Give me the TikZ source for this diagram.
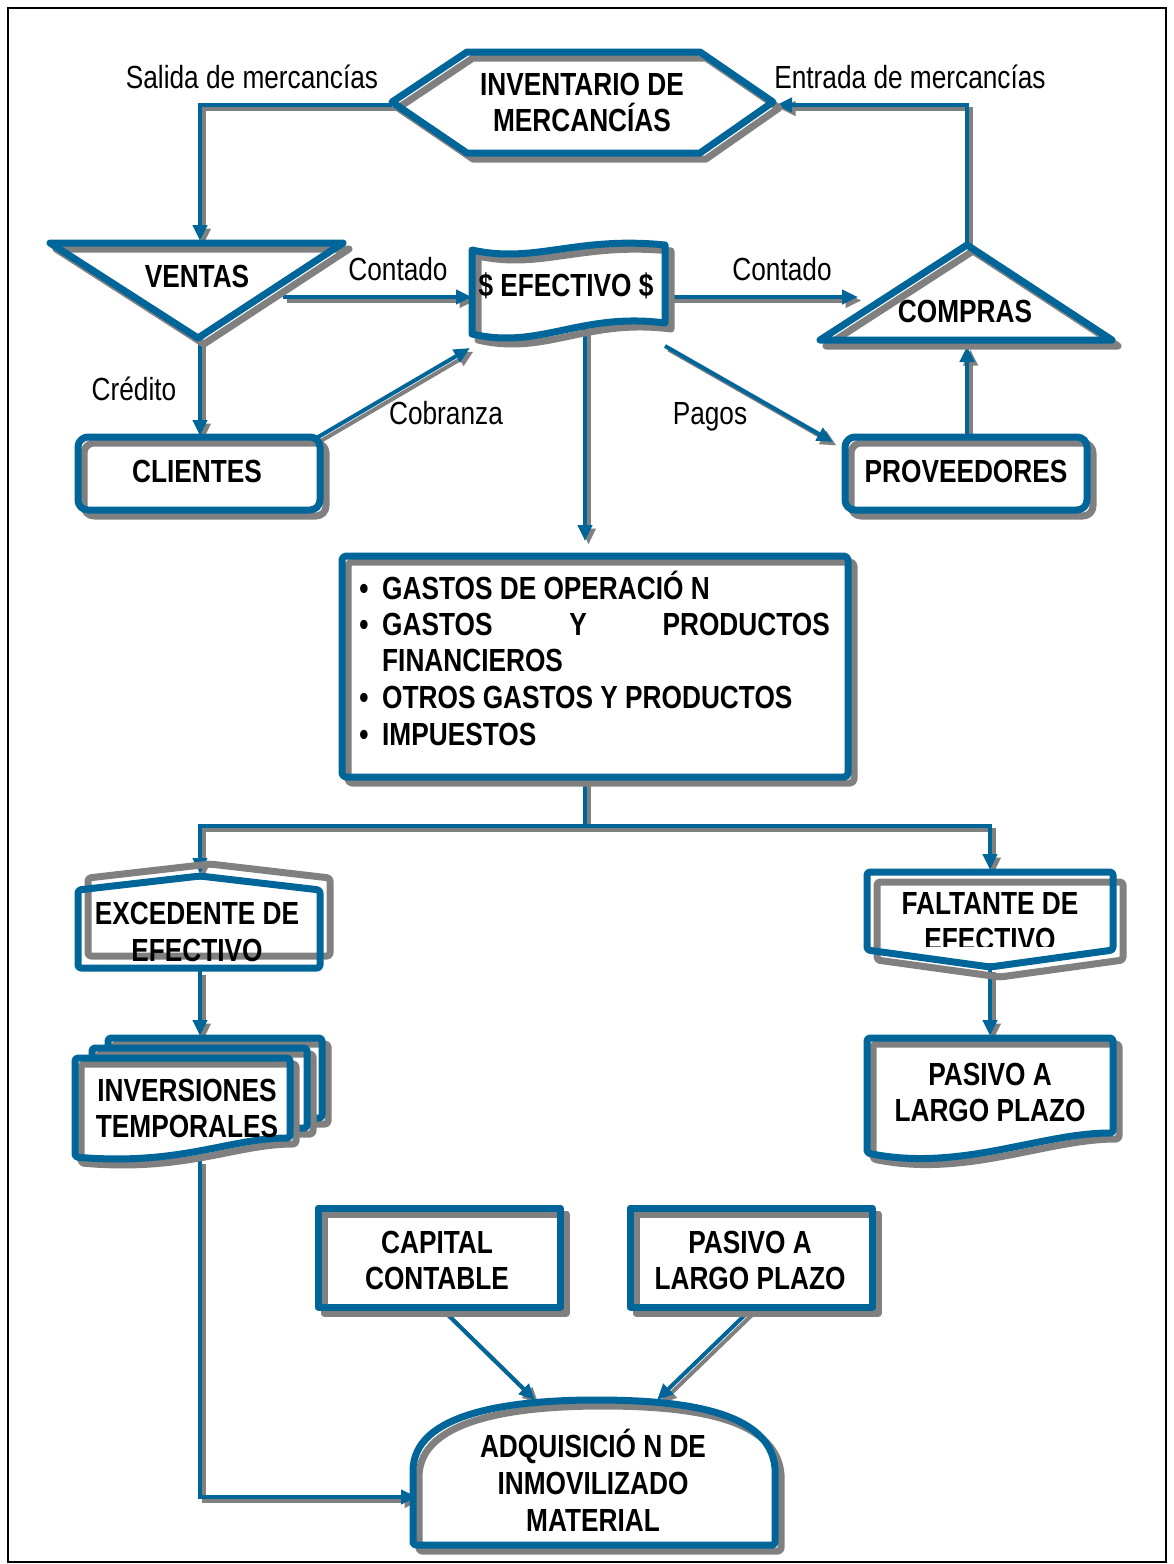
\documentclass[tikz,border=0pt]{standalone}
\usepackage{fontspec}
\setmainfont[FakeStretch=0.82]{Liberation Sans}
\usetikzlibrary{arrows.meta}
\definecolor{flowblue}{RGB}{0,102,153}
\definecolor{flowgray}{RGB}{128,128,128}

% white body, offset grey outline, blue outline
\newcommand\drawshape[2]{%
  \fill[white] #2;
  \draw[shd,shift={#1}] #2;
  \draw[shp] #2;}
% connector with its grey copy underneath
\newcommand\flow[1]{\draw[arrshd] #1; \draw[arr] #1;}

\begin{document}
\begin{tikzpicture}[x=1pt,y=-1pt,
  shp/.style={draw=flowblue,line width=7pt,line join=round},
  shd/.style={draw=flowgray,line width=7pt,line join=round},
  arr/.style={draw=flowblue,line width=4pt,-{Triangle[length=16pt,width=14pt]}},
  arrshd/.style={draw=flowgray,line width=4pt,-{Triangle[length=16pt,width=14pt]},
                 transform canvas={shift={(3.5pt,-3.5pt)}}},
  lbl/.style={inner sep=0pt,text height=23pt,text depth=0pt,font=\fontsize{32}{38}\selectfont},
  ttl/.style={lbl,font=\fontsize{32}{38}\selectfont\bfseries}]

\useasboundingbox (0,0) rectangle (1173,1564);
\fill[white] (0,0) rectangle (1173,1564);
\draw[black,line width=1.5pt] (8,8) rectangle (1166,1562);

% ---------- connector ends ----------
\coordinate (inv-w) at (392,105);
\coordinate (inv-e) at (776,105);
\coordinate (ven-n) at (200,241);
\coordinate (ven-s) at (200,340);
\coordinate (ven-e) at (283,297);
\coordinate (efe-w) at (472,297);
\coordinate (efe-e) at (669,297);
\coordinate (efe-s) at (585,326);
\coordinate (efe-sw) at (470,348);
\coordinate (efe-se) at (665,346);
\coordinate (com-w) at (858,297);
\coordinate (com-n) at (967,243);
\coordinate (com-s) at (967,346);
\coordinate (cli-n) at (200,436);
\coordinate (cli-ne) at (313,440);
\coordinate (pro-nw) at (833,442);
\coordinate (pro-n) at (967,437);
\coordinate (gas-n) at (585,541);
\coordinate (gas-s) at (585,780);
\coordinate (split) at (585,826);
\coordinate (exc-n) at (200,874);
\coordinate (exc-s) at (200,971);
\coordinate (fal-n) at (990,870);
\coordinate (fal-s) at (990,968);
\coordinate (tmp-n) at (200,1036);
\coordinate (tmp-s) at (200,1160);
\coordinate (pas-n) at (990,1036);
\coordinate (cap-s) at (443,1310);
\coordinate (pl-s) at (750,1310);
\coordinate (adq-w) at (417,1497);
\coordinate (adq-nw) at (535,1400);
\coordinate (adq-ne) at (657,1400);

% ---------- connectors ----------
\flow{(inv-w) -| (ven-n)}
\flow{(com-n) |- (inv-e)}
\flow{(ven-e) -- (efe-w)}
\flow{(efe-e) -- (com-w)}
\flow{(ven-s) -- (cli-n)}
\flow{(cli-ne) -- (efe-sw)}
\flow{(efe-se) -- (pro-nw)}
\flow{(pro-n) -- (com-s)}
\flow{(efe-s) -- (gas-n)}
\flow{(gas-s) -- (split) -| (exc-n)}
\flow{(split) -| (fal-n)}
\flow{(exc-s) -- (tmp-n)}
\flow{(fal-s) -- (pas-n)}
\flow{(tmp-s) |- (adq-w)}
\flow{(cap-s) -- (adq-nw)}
\flow{(pl-s) -- (adq-ne)}

% ---------- shapes ----------
% inventory hexagon
\drawshape{(6,6)}{(392,102) -- (467,52) -- (700,52) -- (773,102) -- (700,153) -- (467,153) -- cycle}
% sales: down triangle
\drawshape{(6,6)}{(50,243) -- (343,243) -- (198,338) -- cycle}
% purchases: up triangle
\drawshape{(6,6)}{(967,245) -- (1112,340) -- (820,340) -- cycle}
% cash: punched tape
\drawshape{(6,6)}{(472,250) .. controls (535,264) and (575,236) .. (665,245) -- (665,323)
   .. controls (580,312) and (540,350) .. (472,334) -- cycle}
% customers / suppliers
\drawshape{(6,6)}{[rounded corners=10pt] (78,437) rectangle (320,510)}
\drawshape{(6,6)}{[rounded corners=10pt] (845,437) rectangle (1087,510)}
% expenses box
\drawshape{(6,6)}{[rounded corners=4pt] (342,556) rectangle (848,777)}

% surplus (drawn by hand: the text sits between the grey and the blue outline)
\fill[white] (78,890) -- (200,876) -- (320,890) -- (320,968) -- (78,968) -- cycle;
\draw[shd,shift={(10,-12)},rounded corners=3pt] (78,890) -- (200,876) -- (320,890) -- (320,968) -- (78,968) -- cycle;
\node[ttl] (exc1) at (197,913) {EXCEDENTE DE};
\node[ttl] (exc2) at (197,950) {EFECTIVO};
\draw[shp,rounded corners=3pt] (78,890) -- (200,876) -- (320,890) -- (320,968) -- (78,968) -- cycle;

% shortfall
\drawshape{(10,10)}{[rounded corners=3pt] (867,872) -- (1113,872) -- (1113,950) -- (990,967) -- (867,950) -- cycle}

% temporary investments: stacked documents
\drawshape{(6,6)}{[rounded corners=3pt] (108,1038) -- (322,1038) -- (322,1118) -- (108,1118) -- cycle}
\drawshape{(6,6)}{[rounded corners=3pt] (92,1048) -- (307,1048) -- (307,1128) -- (92,1128) -- cycle}
\drawshape{(6,6)}{[rounded corners=3pt] (75,1058) -- (290,1058) -- (290,1138)
   .. controls (230,1138) and (180,1166) .. (75,1157) -- cycle}

% long-term liabilities document
\drawshape{(6,6)}{[rounded corners=3pt] (867,1038) -- (1113,1038) -- (1113,1133)
   .. controls (1040,1133) and (960,1172) .. (867,1153) -- cycle}

% capital / liabilities boxes
\drawshape{(6,6)}{(318,1208) rectangle (560,1307)}
\drawshape{(6,6)}{(630,1208) rectangle (872,1307)}

% fixed-asset acquisition: arched box
\drawshape{(6,6)}{[rounded corners=3pt] (413,1545) -- (413,1468) [sharp corners] .. controls (420,1410) and (520,1400) .. (596,1400)
   .. controls (680,1400) and (770,1410) .. (775,1468) [rounded corners=3pt] -- (775,1545) -- cycle}

% ---------- texts ----------
\node[ttl] (inv1) at (582,84) {INVENTARIO DE};
\node[ttl] (inv2) at (582,120) {MERCANCÍAS};
\node[ttl] (ven) at (197,276) {VENTAS};
\node[ttl] (efe) at (566,285) {\$ EFECTIVO \$};
\node[ttl] (com) at (965,311) {COMPRAS};
\node[ttl] (cli) at (197,471) {CLIENTES};
\node[ttl] (pro) at (966,471) {PROVEEDORES};

\node[lbl] (lsal) at (252,77) {Salida de mercancías};
\node[lbl] (lent) at (910,77) {Entrada de mercancías};
\node[lbl] (lcon1) at (398,269) {Contado};
\node[lbl] (lcon2) at (782,269) {Contado};
\node[lbl] (lcre) at (134,389) {Crédito};
\node[lbl] (lcob) at (446,413) {Cobranza};
\node[lbl] (lpag) at (710,413) {Pagos};

\foreach \yy/\nm in {588/b1,624/b2,697/b3,734/b4}
  \node[ttl] (\nm) at (364,\yy) {•};
\node[ttl,anchor=west] (g1) at (382,588) {GASTOS DE OPERACIÓ N};
\node[ttl,anchor=west] (g2a) at (382,624) {GASTOS};
\node[ttl] (g2b) at (578,624) {Y};
\node[ttl,anchor=east] (g2c) at (830,624) {PRODUCTOS};
\node[ttl,anchor=west] (g3) at (382,660) {FINANCIEROS};
\node[ttl,anchor=west] (g4) at (382,697) {OTROS GASTOS Y PRODUCTOS};
\node[ttl,anchor=west] (g5) at (382,734) {IMPUESTOS};

\node[ttl] (fal1) at (990,903) {FALTANTE DE};
\begin{scope}
  \clip (870,920) rectangle (1110,946);
  \node[ttl] (fal2) at (990,939) {EFECTIVO};
\end{scope}

\node[ttl] (inv3) at (187,1090) {INVERSIONES};
\node[ttl] (inv4) at (187,1126) {TEMPORALES};
\node[ttl] (pas1) at (990,1074) {PASIVO A};
\node[ttl] (pas2) at (990,1110) {LARGO PLAZO};
\node[ttl] (cap1) at (437,1242) {CAPITAL};
\node[ttl] (cap2) at (437,1278) {CONTABLE};
\node[ttl] (pas3) at (750,1242) {PASIVO A};
\node[ttl] (pas4) at (750,1278) {LARGO PLAZO};
\node[ttl] (adq1) at (593,1446) {ADQUISICIÓ N DE};
\node[ttl] (adq2) at (593,1483) {INMOVILIZADO};
\node[ttl] (adq3) at (593,1520) {MATERIAL};

\end{tikzpicture}
\end{document}
